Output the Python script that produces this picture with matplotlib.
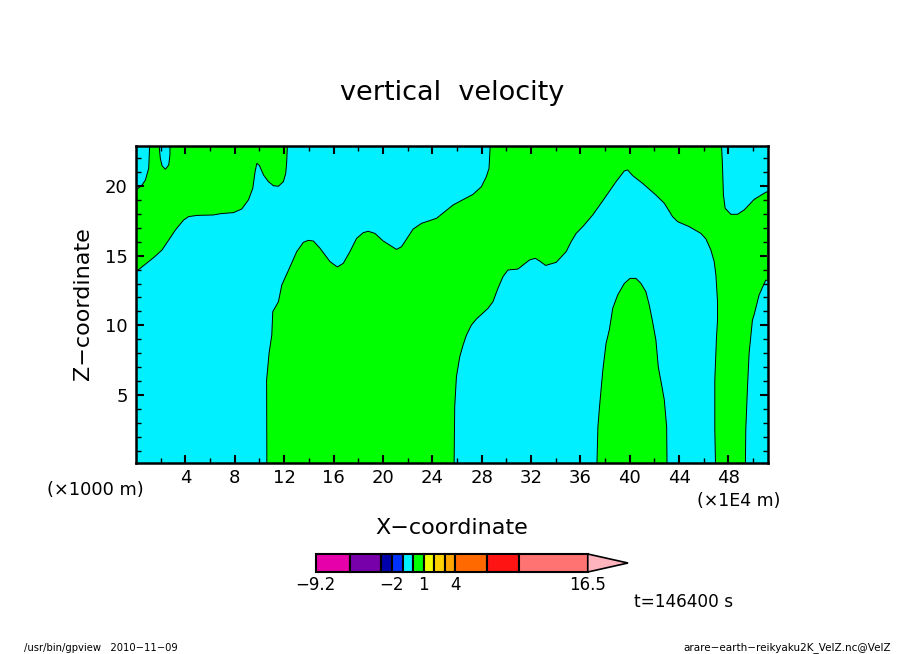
import matplotlib
matplotlib.use("Agg")
import matplotlib.pyplot as plt

# contour outlines (x in 1E4 m, z in 1000 m)
upper_left_x = [0.0, 1.43, 2.11, 2.65, 3.19, 3.86, 4.26, 4.94, 6.28, 6.82, 7.90, 8.57, 9.11, 9.46, 9.65,
                9.79, 10.0, 10.33, 10.73, 11.13, 11.54, 11.94, 12.13, 12.21, 12.27,
                2.75, 2.75, 2.65, 2.38, 2.11, 1.97, 1.86,
                1.11, 1.03, 0.76, 0.49, 0.0]
upper_left_z = [13.85, 14.86, 15.41, 16.12, 16.84, 17.56, 17.80, 17.89, 17.92, 18.01, 18.09, 18.35, 19.0, 19.83, 21.03,
                21.63, 21.46, 20.79, 20.31, 20.02, 19.98, 20.31, 20.91, 21.75, 23.0,
                23.0, 22.23, 21.51, 21.2, 21.46, 21.99, 23.0,
                23.0, 21.27, 20.43, 20.07, 19.71]

main_x = [10.6, 10.58, 10.78, 11.0, 11.08, 11.54, 11.81, 12.48, 13.02, 13.56, 13.96, 14.37, 14.91, 15.72, 16.31, 16.79,
          17.33, 17.87, 18.41, 18.81, 19.35, 20.03, 21.1, 21.51, 22.45, 23.13, 24.34, 25.69, 27.3, 27.98, 28.38,
          28.6, 28.7,
          47.43, 47.5, 47.59, 47.73, 48.19, 48.73, 49.27, 50.08, 51.02, 51.2,
          51.2, 51.02, 50.48, 50.07, 49.94, 49.67, 49.54, 49.4, 49.37,
          46.95, 46.89, 46.89, 47.03, 47.11, 47.11, 46.98, 46.84, 46.57, 46.17, 45.76, 44.82, 43.88, 43.47, 42.8,
          42.12, 41.04, 40.24, 39.83, 39.56, 38.89, 37.95, 37.0, 36.19, 35.66, 35.25, 34.85, 34.04, 33.18, 32.69,
          32.34, 31.88, 30.94, 30.13, 29.73, 29.32, 28.92, 28.52, 27.57, 27.17, 26.77, 26.5, 26.23, 25.96, 25.82,
          25.77]
main_z = [0.0, 6.07, 8.0, 9.30, 10.98, 11.7, 12.89, 14.21, 15.29, 15.96, 16.1, 16.05, 15.53, 14.57, 14.19, 14.45,
          15.29, 16.24, 16.65, 16.75, 16.6, 16.05, 15.45, 15.64, 16.91, 17.32, 17.68, 18.64, 19.4, 19.95, 20.67,
          21.27, 23.0,
          23.0, 21.75, 19.35, 18.4, 17.97, 17.97, 18.28, 19.04, 19.55, 19.6,
          13.2, 13.25, 12.18, 10.74, 10.38, 8.0, 5.6, 2.49, 0.0,
          0.0, 2.49, 6.07, 9.18, 10.38, 11.7, 13.6, 14.57, 15.41, 16.2, 16.6, 17.08, 17.44, 17.8, 18.76,
          19.35, 20.19, 20.74, 21.15, 21.08, 20.31, 19.11, 17.92, 17.08, 16.6, 16.0, 15.29, 14.52, 14.3, 14.62,
          14.81, 14.69, 14.04, 13.97, 13.49, 12.65, 11.7, 11.22, 10.45, 10.02, 9.3, 8.59, 7.75, 6.32, 4.16,
          0.0]

peak_x = [37.34, 37.42, 37.55, 37.82, 38.08, 38.35, 38.62, 39.02, 39.56, 40.02, 40.5, 40.91, 41.31, 41.58,
          41.85, 42.12, 42.31, 42.61, 42.8, 42.99, 43.02]
peak_z = [0.0, 2.72, 4.15, 6.79, 8.7, 9.7, 11.22, 12.18, 13.01, 13.37, 13.37, 13.01, 12.41, 11.46,
          10.26, 8.94, 7.03, 5.6, 4.64, 2.72, 0.0]

x_ticks = [4, 8, 12, 16, 20, 24, 28, 32, 36, 40, 44, 48]
z_ticks = [5, 10, 15, 20]

bar_levels = [-9.2, -6, -3, -2, -1, 0, 1, 2, 3, 4, 7, 10, 16.5]
bar_colors = ["#e600aa", "#7800aa", "#0000aa", "#0032ff", "#00f0ff", "#00ff00",
              "#f0ff00", "#ffd200", "#ffa500", "#ff6900", "#ff1414", "#ff7373"]
bar_over = "#ffb4be"
bar_labels = [-9.2, -2, 1, 4, 16.5]

W, H = 904, 654
fig = plt.figure(figsize=(W / 100, H / 100), dpi=100)

# main panel
ax = fig.add_axes([136 / W, 1 - 463.3 / H, 632 / W, 317.3 / H])
ax.set_facecolor("#00f0ff")
for px, pz in [(upper_left_x, upper_left_z), (main_x, main_z), (peak_x, peak_z)]:
    ax.fill(px, pz, facecolor="#00ff00", edgecolor="black", linewidth=0.7)

ax.set_xlim(0, 51.2)
ax.set_ylim(0.1, 22.87)
ax.set_xticks(x_ticks)
ax.set_xticks(range(2, 51, 2), minor=True)
ax.set_yticks(z_ticks)
ax.set_yticks(range(1, 23), minor=True)
ax.tick_params(which="major", direction="in", length=6, width=1.5, top=True, right=True, labelsize=13)
ax.tick_params(which="minor", direction="in", length=3.5, width=1, top=True, right=True)
ax.tick_params(axis="x", which="major", pad=4)
ax.tick_params(axis="y", which="major", pad=6)
for spine in ax.spines.values():
    spine.set_linewidth(1.8)


def put(px, py, s, size, **kw):
    # text placed by picture pixels
    kw.setdefault("ha", "center")
    fig.text(px / W, 1 - py / H, s, fontsize=size, va="center", **kw)


put(452, 93, "vertical  velocity", 19.5)
put(452, 528, "X\u2212coordinate", 16)
put(83, 304, "Z\u2212coordinate", 16, rotation=90)
put(95, 490, "(\u00d71000 m)", 12.8)
put(739, 501, "(\u00d71E4 m)", 12.5)
put(684, 602, "t=146400 s", 12.2)
put(24, 648, "/usr/bin/gpview   2010\u221211\u221209", 7.2, ha="left")
put(891, 648, "arare\u2212earth\u2212reikyaku2K_VelZ.nc@VelZ", 7.5, ha="right")

# colour bar with arrow end
cax = fig.add_axes([315.7 / W, 1 - 572 / H, 312.3 / W, 18 / H])
cax.set_xlim(-9.2, 20.3)
cax.set_ylim(0, 1)
cax.axis("off")
for lo, hi, col in zip(bar_levels[:-1], bar_levels[1:], bar_colors):
    cax.fill([lo, hi, hi, lo], [0, 0, 1, 1], facecolor=col, edgecolor="black", linewidth=1.5, clip_on=False)
cax.fill([16.5, 20.3, 16.5], [0, 0.5, 1], facecolor=bar_over, edgecolor="black", linewidth=1.2, clip_on=False)
for v in bar_labels:
    cax.text(v, -0.72, f"{v:g}".replace("-", "\u2212"), ha="center", va="center", fontsize=12)

fig.savefig("out.png", dpi=100)
